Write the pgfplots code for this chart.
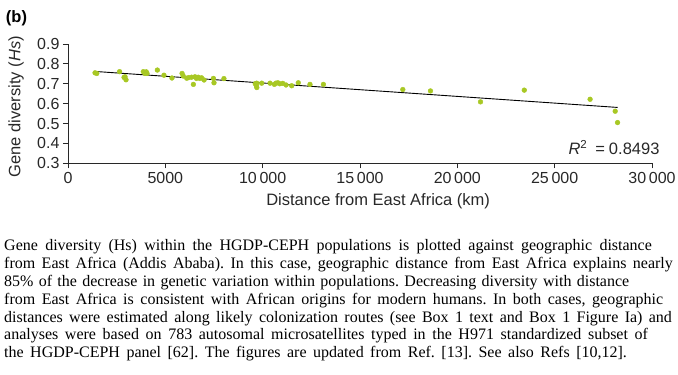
\documentclass[border=0pt]{standalone}
\usepackage{fontspec}
\setmainfont{Liberation Sans}
\newfontfamily\capfont{Liberation Serif}
\usepackage{pgfplots}
\pgfplotsset{compat=1.18}
\definecolor{ptgreen}{RGB}{168,200,36}
\definecolor{axgray}{RGB}{40,40,40}
\newcommand{\capline}[2]{\makebox[#1pt][s]{#2}}
\frenchspacing
\begin{document}
\begin{tikzpicture}[x=1pt,y=1pt]
\useasboundingbox (0,0) rectangle (678,-375);
\node[font=\fontsize{16.5}{18}\selectfont\bfseries] at (16.5,-18.5) {(b)};
\begin{axis}[
  at={(68pt,-163.3pt)}, anchor=south west,
  scale only axis, width=584pt, height=119.3pt,
  xmin=0, xmax=30000, ymin=0.3, ymax=0.9,
  axis lines=left, axis line style={-, line width=0.8pt, draw=axgray},
  scaled x ticks=false,
  xtick={0,5000,10000,15000,20000,25000,30000},
  xticklabels={0,5000,{10\,000},{15\,000},{20\,000},{25\,000},{30\,000}},
  ytick={0.3,0.4,0.5,0.6,0.7,0.8,0.9},
  yticklabel style={/pgf/number format/fixed,/pgf/number format/precision=1,/pgf/number format/fixed zerofill},
  /pgf/number format/assume math mode=true,
  tick align=outside, major tick length=5pt,
  tick style={line width=0.8pt, draw=axgray},
  tick label style={font=\fontsize{16}{18}\selectfont, text=axgray},
  xlabel={Distance from East Africa (km)},
  ylabel={Gene diversity (\textit{Hs})},
  label style={font=\fontsize{16.5}{18}\selectfont, text=axgray},
  xlabel style={at={(axis description cs:0.531,-0.322)}, anchor=center},
  ylabel style={at={(axis description cs:-0.089,0.474)}, anchor=center, rotate=0},
  clip=false,
]
\addplot[only marks, mark=*, mark size=2.4pt, color=ptgreen, mark options={draw=ptgreen, fill=ptgreen}] coordinates {
(1390,0.755) (1480,0.752) (2650,0.761) (2880,0.732) (2980,0.720) (2930,0.735)
(3870,0.761) (4020,0.760) (4060,0.752) (3950,0.752) (4590,0.769) (4930,0.743)
(5340,0.729) (5860,0.752) (5920,0.739) (6100,0.728) (6200,0.731) (6350,0.733)
(6440,0.697) (6520,0.735) (6600,0.727) (6690,0.733) (6770,0.727) (6860,0.730)
(6990,0.719) (7470,0.727) (7500,0.705) (8010,0.726) (9620,0.700) (9680,0.690)
(9700,0.681) (9690,0.703) (9950,0.703) (10380,0.703) (10600,0.697) (10680,0.703)
(10780,0.705) (10880,0.700) (11030,0.702) (11200,0.694) (11490,0.690) (11830,0.705)
(12430,0.697) (13120,0.697) (17200,0.671) (18620,0.664) (21190,0.609) (23440,0.668)
(26820,0.622) (28110,0.562) (28230,0.505)
};
\addplot[black, line width=0.9pt] coordinates {(1390,0.762) (28230,0.581)};
\node[anchor=base east, font=\fontsize{16.5}{18}\selectfont, text=axgray] at (axis cs:30565,0.342) {\textit{R}\textsuperscript{2}\hspace{8pt}=\hspace{4pt}0.8493};
\end{axis}
\begin{scope}[every node/.style={anchor=base west, inner sep=0pt, font=\capfont\fontsize{16}{18}\selectfont}]
\node at (4,-250.8) {\capline{647.7}{Gene diversity (Hs) within the HGDP-CEPH populations is plotted against geographic distance}};
\node at (4,-268.6) {\capline{668.7}{from East Africa (Addis Ababa). In this case, geographic distance from East Africa explains nearly}};
\node at (4,-286.4) {\capline{625}{85\% of the decrease in genetic variation within populations. Decreasing diversity with distance}};
\node at (4,-304.2) {\capline{659}{from East Africa is consistent with African origins for modern humans. In both cases, geographic}};
\node at (4,-322.0) {\capline{667.7}{distances were estimated along likely colonization routes (see Box 1 text and Box 1 Figure Ia) and}};
\node at (4,-339.8) {\capline{643.7}{analyses were based on 783 autosomal microsatellites typed in the H971 standardized subset of}};
\node at (4,-357.6) {\capline{622.7}{the HGDP-CEPH panel [62]. The figures are updated from Ref. [13]. See also Refs [10,12].}};
\end{scope}
\end{tikzpicture}
\end{document}
